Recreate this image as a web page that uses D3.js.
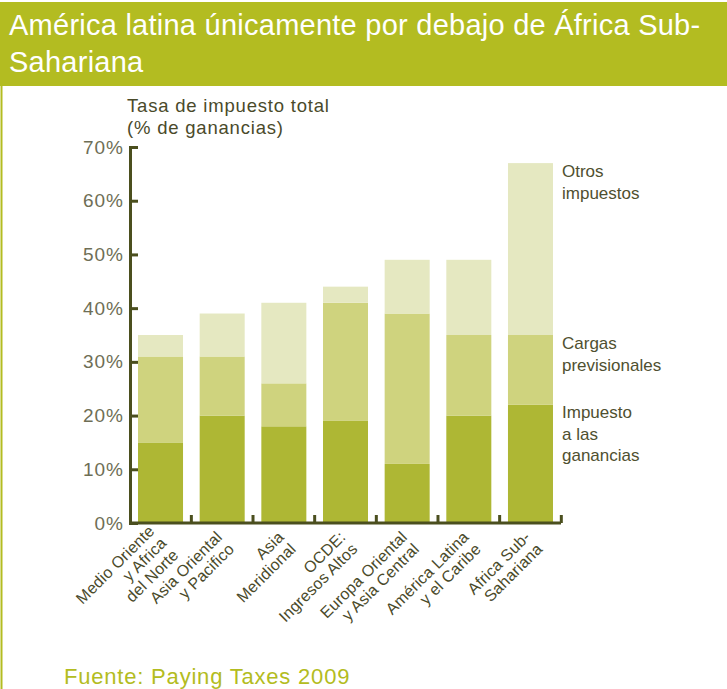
<!DOCTYPE html>
<html>
	<head>
		<title>Tasa de impuesto total</title>
		<script src="https://d3js.org/d3.v7.min.js"></script>

		<style>
			body {
			  margin: 0;
			  background: #fff;
			  font-family: "Liberation Sans", Arial, sans-serif;
			}
			.axis path, .axis line {
			  stroke: #4b4f1e;
			  stroke-width: 3px;
			}
			.axis text {
			  fill: #6e6e55;
			  font-size: 19px;
			  letter-spacing: 1px;
			  font-family: "Liberation Sans", Arial, sans-serif;
			}
		</style>
	</head>

	<body>

		<svg width="727" height="689"></svg>

        <script type="text/javascript">
			var categories = [
			  ["Medio Oriente", "y Africa", "del Norte"],
			  ["Asia Oriental", "y Pacifico"],
			  ["Asia", "Meridional"],
			  ["OCDE:", "Ingresos Altos"],
			  ["Europa Oriental", "y Asia Central"],
			  ["América Latina", "y el Caribe"],
			  ["Africa Sub-", "Sahariana"]
			];
			// % de ganancias
			var impuestoGanancias = [15, 20, 18, 19, 11, 20, 22];
			var cargasPrevisionales = [16, 11, 8, 22, 28, 15, 13];
			var otrosImpuestos = [4, 8, 15, 3, 10, 14, 32];

			var legendLines = [["Impuesto", "a las", "ganancias"], ["Cargas", "previsionales"], ["Otros", "impuestos"]];
			var colors = ["#aeb734", "#cfd37e", "#e5e8c1"];
			var yTicks = [0, 10, 20, 30, 40, 50, 60, 70];

			var svg = d3.select('svg');

			// title band
			svg.append('rect')
			  .attr('x', 0).attr('y', 2)
			  .attr('width', 727).attr('height', 84)
			  .attr('fill', '#b3bc21');
			svg.append('line')
			  .attr('x1', 1.5).attr('x2', 1.5)
			  .attr('y1', 86).attr('y2', 689)
			  .attr('stroke', '#b3bc21')
			  .attr('stroke-width', 2);
			svg.append('text')
			  .attr('fill', '#fff')
			  .style('font-size', '29px')
			  .style('letter-spacing', '0.25px')
			  .selectAll('tspan')
			  .data(['América latina únicamente por debajo de África Sub-', 'Sahariana'])
			  .enter()
			  .append('tspan')
			  .attr('x', 9)
			  .attr('y', function(d, i) {return 35 + i * 37;})
			  .text(function(d) {return d;});

			var x = d3.scaleBand()
			  .domain(d3.range(categories.length))
			  .range([130, 561])
			  .paddingInner(0.27)
			  .paddingOuter(0.13);

			var y = d3.scaleLinear()
			  .domain([0, 70])
			  .range([523, 147]);

			var rows = categories.map(function(c, i) {
			  return {i: i, a: impuestoGanancias[i], b: cargasPrevisionales[i], c: otrosImpuestos[i]};
			});
			var layers = d3.stack().keys(['a', 'b', 'c'])(rows);

			svg.append('g')
			  .selectAll('g')
			  .data(layers)
			  .enter()
			  .append('g')
			  .attr('fill', function(d, i) {return colors[i];})
			  .selectAll('rect')
			  .data(function(d) {return d;})
			  .enter()
			  .append('rect')
			  .attr('x', function(d) {return x(d.data.i);})
			  .attr('width', x.bandwidth())
			  .attr('y', function(d) {return y(d[1]);})
			  .attr('height', function(d) {return y(d[0]) - y(d[1]);});

			// y axis, ticks pointing inward
			svg.append('g')
			  .attr('class', 'axis')
			  .attr('transform', 'translate(130,0)')
			  .call(d3.axisLeft(y)
			    .tickValues(yTicks)
			    .tickSize(-8)
			    .tickPadding(6)
			    .tickFormat(function(d) {return d + '%';}));

			// baseline with ticks between bands
			var bounds = d3.range(1, categories.length + 1).map(function(i) {
			  return x.range()[0] + x.step() * (i + x.paddingOuter() - x.paddingInner() / 2);
			});
			var base = svg.append('g').attr('class', 'axis');
			base.append('line')
			  .attr('x1', 130).attr('x2', 561)
			  .attr('y1', y(0)).attr('y2', y(0));
			base.selectAll('line.tk')
			  .data(bounds)
			  .enter()
			  .append('line')
			  .classed('tk', true)
			  .attr('x1', function(d) {return d;})
			  .attr('x2', function(d) {return d;})
			  .attr('y1', y(0))
			  .attr('y2', y(0) - 8);

			// category labels
			var lab = svg.append('g')
			  .selectAll('text')
			  .data(categories)
			  .enter()
			  .append('text')
			  .attr('transform', function(d, i) {
			    return 'translate(' + (x(i) + x.bandwidth() / 2 + 7) + ',' + 544 + ') rotate(-45)';
			  })
			  .attr('text-anchor', 'end')
			  .attr('fill', '#4a4a2a')
			  .style('font-size', '16px')
			  .style('letter-spacing', '0.2px');
			lab.selectAll('tspan')
			  .data(function(d) {
			    return d.map(function(t, j) {return {t: t, off: j - (d.length - 1) / 2};});
			  })
			  .enter()
			  .append('tspan')
			  .attr('x', 0)
			  .attr('y', function(d) {return d.off * 17;})
			  .text(function(d) {return d.t;});

			// axis title
			svg.append('text')
			  .attr('fill', '#4a4a2a')
			  .style('font-size', '18.5px')
			  .style('letter-spacing', '0.8px')
			  .selectAll('tspan')
			  .data(['Tasa de impuesto total', '(% de ganancias)'])
			  .enter()
			  .append('tspan')
			  .attr('x', 127)
			  .attr('y', function(d, i) {return 112 + i * 22;})
			  .text(function(d) {return d;});

			// legend beside the last bar
			var legY = [418, 349, 177];
			var leg = svg.append('g')
			  .selectAll('text')
			  .data(legendLines)
			  .enter()
			  .append('text')
			  .attr('fill', '#4f5030')
			  .style('font-size', '17px');
			leg.selectAll('tspan')
			  .data(function(d, i) {return d.map(function(t) {return {t: t, i: i};});})
			  .enter()
			  .append('tspan')
			  .attr('x', 562)
			  .attr('y', function(d, j) {return legY[d.i] + j * 21.5;})
			  .text(function(d) {return d.t;});

			svg.append('text')
			  .attr('x', 64).attr('y', 684)
			  .attr('fill', '#b3bc21')
			  .style('font-size', '22px')
			  .style('letter-spacing', '0.8px')
			  .text('Fuente: Paying Taxes 2009');
        </script>

	</body>
</html>
